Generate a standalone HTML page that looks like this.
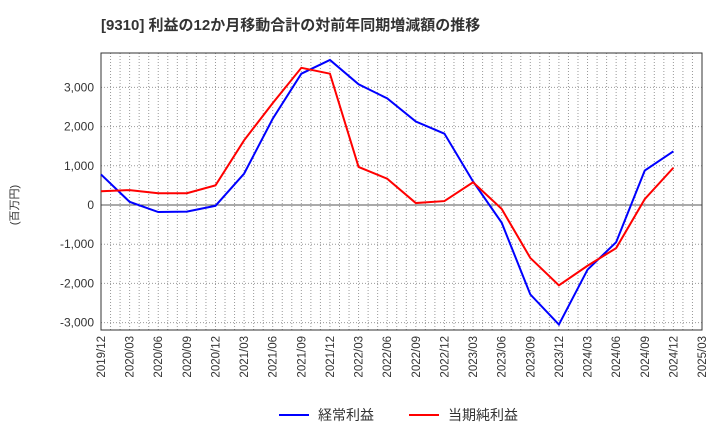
<!DOCTYPE html>
<html><head><meta charset="utf-8"><style>
body{margin:0;background:#fff;font-family:"Liberation Sans","Noto Sans CJK JP",sans-serif}
</style></head><body>
<svg id="c" width="720" height="440" xmlns="http://www.w3.org/2000/svg">
<text x="101" y="30" font-size="15" font-weight="bold" fill="#333">[9310]  利益の12か月移動合計の対前年同期増減額の推移</text>
<text transform="translate(18,205) rotate(-90)" font-size="11" fill="#333" text-anchor="middle">(百万円)</text>
<g id="grid"></g><g id="axes"></g><g id="series"></g>
<g>
<line x1="279" y1="415" x2="309" y2="415" stroke="#0000ff" stroke-width="2"/>
<text x="318" y="420" font-size="14" fill="#333">経常利益</text>
<line x1="409" y1="415" x2="439" y2="415" stroke="#ff0000" stroke-width="2"/>
<text x="448" y="420" font-size="14" fill="#333">当期純利益</text>
</g>
</svg>
<script>
const categories=["2019/12","2020/03","2020/06","2020/09","2020/12","2021/03","2021/06","2021/09","2021/12","2022/03","2022/06","2022/09","2022/12","2023/03","2023/06","2023/09","2023/12","2024/03","2024/06","2024/09","2024/12","2025/03"];
const keijo=[780,80,-180,-170,-20,800,2200,3350,3700,3080,2720,2130,1820,600,-450,-2280,-3050,-1650,-950,880,1370];
const junri=[350,380,300,300,500,1650,2600,3500,3350,970,670,50,100,580,-100,-1350,-2050,-1550,-1100,150,950];
const yTicks=[3000,2000,1000,0,-1000,-2000,-3000];
const yTickLabels=["3,000","2,000","1,000","0","-1,000","-2,000","-3,000"];
const L=101,R=702,T=53,B=330;
const x=i=>L+(R-L)*i/(categories.length-1);
const y=v=>205-v*0.0392;
const NS="http://www.w3.org/2000/svg";
function mk(p,t,a){const e=document.createElementNS(NS,t);for(const k in a)e.setAttribute(k,a[k]);p.appendChild(e);return e;}
const g=document.getElementById('grid'),ax=document.getElementById('axes'),s=document.getElementById('series');
for(let m=1;m<(categories.length-1)*3;m++){const xx=L+(R-L)*m/((categories.length-1)*3);
const l=mk(g,'line',{x1:xx,x2:xx,y1:T,y2:B,stroke:'#999','stroke-dasharray':'1,2','stroke-width':1});

}
yTicks.forEach((v,i)=>{const yy=y(v);
const l=mk(g,'line',{x1:L,x2:R,y1:yy,y2:yy,stroke:v===0?'#555':'#999','stroke-dasharray':v===0?'':'1,2','stroke-width':1});


const t=mk(ax,'text',{x:94,y:yy+4,'font-size':12,fill:'#333','text-anchor':'end'});t.textContent=yTickLabels[i];

});
const fr=mk(ax,'rect',{x:L,y:T,width:R-L,height:B-T,fill:'none',stroke:'#333','stroke-width':1});


categories.forEach((c,i)=>{const xx=x(i);
const t=mk(ax,'text',{transform:`translate(${xx+4},${B+6}) rotate(-90)`,'font-size':11.5,fill:'#333','text-anchor':'end'});t.textContent=c;

});
[[keijo,'#0000ff','keijo-line'],[junri,'#ff0000','junri-line']].forEach(([d,col,n])=>{
const p=mk(s,'polyline',{points:d.map((v,i)=>x(i)+','+y(v)).join(' '),fill:'none',stroke:col,'stroke-width':2});

});
</script>
</body></html>
